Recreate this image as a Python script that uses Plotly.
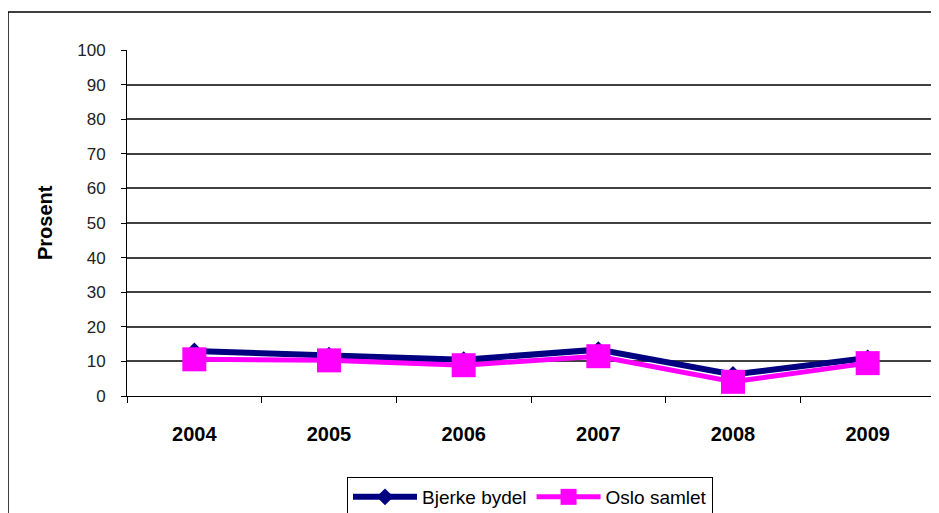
import plotly.graph_objects as go

years = ["2004", "2005", "2006", "2007", "2008", "2009"]
bjerke = [13.0, 11.8, 10.5, 13.4, 6.2, 11.0]
oslo = [10.6, 10.3, 8.9, 11.5, 4.1, 9.5]
y_ticks = [0, 10, 20, 30, 40, 50, 60, 70, 80, 90, 100]

OFF = 8  # page body margin
W, H = 939 - OFF, 513 - OFF
L, T = 127 - OFF, 50 - OFF
R = W - (935 - OFF)
B = H - (396 - OFF)
pw, ph = W - L - R, H - T - B

FONT = "Liberation Sans, Arial, sans-serif"

fig = go.Figure()
fig.add_trace(go.Scatter(
    x=years, y=bjerke, name="Bjerke bydel", mode="lines+markers",
    line=dict(color="#000080", width=6),
    marker=dict(symbol="diamond", size=13, color="#000080"),
))
fig.add_trace(go.Scatter(
    x=years, y=oslo, name="Oslo samlet", mode="lines+markers",
    line=dict(color="#FF00FF", width=5),
    marker=dict(symbol="square", size=24, color="#FF00FF"),
))

def px_x(p):
    return (p - OFF - L) / pw

def px_y(p):
    return (H - B - (p - OFF)) / ph

fig.update_layout(
    width=W, height=H,
    margin=dict(l=L, r=R, t=T, b=B, pad=0, autoexpand=False),
    paper_bgcolor="white", plot_bgcolor="white",
    font=dict(family=FONT, color="black"),
    showlegend=True,
    legend=dict(
        orientation="h", x=px_x(347), y=px_y(477), xanchor="left", yanchor="top",
        bgcolor="white", bordercolor="black", borderwidth=1,
        font=dict(size=19, family=FONT),
        itemwidth=64, tracegroupgap=0,
    ),
    xaxis=dict(
        type="category", tickson="boundaries", ticks="outside", ticklen=6,
        tickcolor="black", showline=True, linecolor="black", linewidth=1,
        showgrid=False, tickfont=dict(size=20, family=FONT, weight="bold"),
        ticklabelstandoff=20, range=[-0.5, 5.5],
    ),
    yaxis=dict(
        range=[0, 100], tickvals=y_ticks, ticks="outside", ticklen=5,
        tickcolor="black", showline=True, linecolor="black", linewidth=1,
        showgrid=True, gridcolor="#404040", gridwidth=1.5,
        tickfont=dict(size=17, color="#222", family=FONT), ticklabelstandoff=12,
        zeroline=False,
    ),
    annotations=[dict(
        text="<b>Prosent</b>", xref="paper", yref="paper",
        x=px_x(45), y=px_y(223), textangle=-90, showarrow=False,
        font=dict(size=20, family=FONT),
        xanchor="center", yanchor="middle",
    )],
    shapes=[dict(
        type="rect", xref="paper", yref="paper",
        x0=px_x(8), x1=px_x(980), y0=px_y(560), y1=px_y(12),
        line=dict(color="black", width=1.5), fillcolor="rgba(0,0,0,0)",
        layer="below",
    )],
)

fig.write_html("out.html")
